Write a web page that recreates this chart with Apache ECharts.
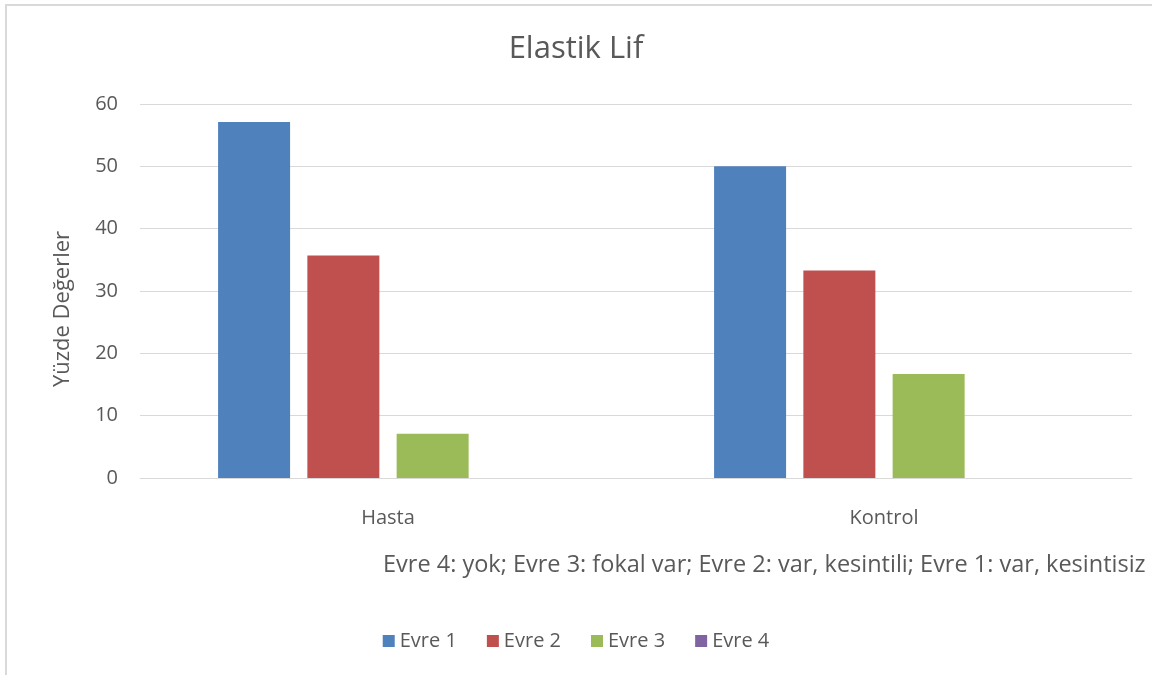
<!DOCTYPE html>
<html lang="tr">
<head>
    <meta charset="UTF-8">
    <title>Elastik Lif</title>
    <script src="https://cdn.jsdelivr.net/npm/echarts@6/dist/echarts.min.js"></script>
    <style>
        html, body { margin: 0; padding: 0; background: #fff; }
        #frame { position: absolute; left: 5px; top: 4px; width: 1160px; height: 680px;
                 border-left: 2px solid #d9d9d9; border-top: 2px solid #d9d9d9; }
        #chart { position: absolute; left: 0; top: 0; width: 1152px; height: 675px; }
    </style>
</head>
<body>
    <div id="frame"></div>
    <div id="chart"></div>
    <script>
        const categories = ['Hasta', 'Kontrol'];
        const seriesNames = ['Evre 1', 'Evre 2', 'Evre 3', 'Evre 4'];
        const evre1 = [57.1, 50.0];
        const evre2 = [35.7, 33.3];
        const evre3 = [7.1, 16.7];
        const evre4 = [0, 0];
        const colors = ['#4F81BD', '#C0504D', '#9BBB59', '#8064A2'];
        const note = 'Evre 4: yok; Evre 3: fokal var; Evre 2: var, kesintili; Evre 1: var, kesintisiz';

        const font = '"Open Sans", "Liberation Sans", sans-serif';
        const values = [evre1, evre2, evre3, evre4];

        const chart = echarts.init(document.getElementById('chart'));
        chart.setOption({
            animation: false,
            color: colors,
            textStyle: { fontFamily: font, color: '#595959' },
            title: {
                text: 'Elastik Lif',
                left: 'center',
                top: 29,
                textStyle: { fontFamily: font, fontSize: 31, fontWeight: 'normal', color: '#595959' }
            },
            legend: {
                data: seriesNames,
                left: 'center',
                top: 626,
                itemWidth: 12,
                itemHeight: 12,
                itemGap: 30,
                icon: 'rect',
                textStyle: { fontFamily: font, fontSize: 20, color: '#595959' }
            },
            grid: { left: 140, right: 20, top: 104, bottom: 197 },
            xAxis: {
                type: 'category',
                data: categories,
                axisLine: { lineStyle: { color: '#d9d9d9' } },
                axisTick: { show: false },
                axisLabel: { fontSize: 20, color: '#595959', margin: 30 }
            },
            yAxis: {
                type: 'value',
                min: 0,
                max: 60,
                interval: 10,
                axisLine: { show: false },
                axisTick: { show: false },
                axisLabel: { fontSize: 20, color: '#595959', margin: 22 },
                splitLine: { lineStyle: { color: '#d9d9d9' } }
            },
            graphic: [{
                type: 'text',
                x: 63,
                y: 309,
                rotation: Math.PI / 2,
                style: { text: 'Yüzde Değerler', fontFamily: font, fontSize: 22, fill: '#595959',
                         align: 'center', verticalAlign: 'middle' }
            }, {
                type: 'text',
                x: 383,
                y: 565,
                style: { text: note, fontFamily: font, fontSize: 23.5, fill: '#595959',
                         align: 'left', verticalAlign: 'middle' }
            }],
            series: seriesNames.map((name, i) => ({
                name: name,
                type: 'bar',
                data: values[i],
                barWidth: 72,
                barGap: '24%'
            }))
        });
    </script>
</body>
</html>
